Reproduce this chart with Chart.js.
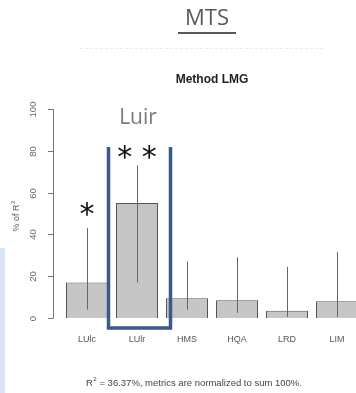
<!DOCTYPE html>
<html>
<head>
<meta charset="utf-8">
<script src="https://cdn.jsdelivr.net/npm/chart.js@4"></script>
<style>
  html, body { margin: 0; padding: 0; background: #fff; overflow: hidden; }
  #wrap { position: relative; width: 356px; height: 393px; overflow: hidden; }
  canvas { position: absolute; left: 0; top: 0; }
</style>
</head>
<body>
<div id="wrap"><canvas id="c" width="380" height="393"></canvas></div>
<script>
// values (% of R2, LMG method)
const categories = ["LUlc", "LUlr", "HMS", "HQA", "LRD", "LIM"];
const shares = [17, 55, 9.5, 8.5, 3.5, 8];
const ciLow = [4, 17, 4, 2.5, 0.5, 0.5];
const ciHigh = [43, 73, 27, 29, 24.5, 31.5];
const stars = ["*", "**", "", "", "", ""];
const yTicks = [0, 20, 40, 60, 80, 100];

const FONT = "'Liberation Sans', Arial, sans-serif";

// text with a superscript "2" after the base, left aligned at x
function supText(ctx, x, y, base, rest, size) {
  ctx.textAlign = "left";
  ctx.font = size + "px " + FONT;
  ctx.fillText(base, x, y);
  let w = ctx.measureText(base).width;
  ctx.font = (size * 0.65) + "px " + FONT;
  ctx.fillText("2", x + w + 0.5, y - size * 0.4);
  w += ctx.measureText("2").width + 0.5;
  ctx.font = size + "px " + FONT;
  ctx.fillText(rest, x + w, y);
  return w + ctx.measureText(rest).width;
}

const decor = {
  id: "decor",
  afterDatasetsDraw(chart) {
    const { ctx, scales: { x, y } } = chart;
    ctx.save();

    // error bars
    ctx.strokeStyle = "#666";
    ctx.lineWidth = 1;
    categories.forEach((c, i) => {
      const px = Math.round(x.getPixelForValue(i)) + 0.5;
      ctx.beginPath();
      ctx.moveTo(px, y.getPixelForValue(ciLow[i]));
      ctx.lineTo(px, y.getPixelForValue(ciHigh[i]));
      ctx.stroke();
    });

    // R style y axis
    const ax = 53.5;
    ctx.strokeStyle = "#777";
    ctx.beginPath();
    ctx.moveTo(ax, y.getPixelForValue(0));
    ctx.lineTo(ax, y.getPixelForValue(100));
    ctx.stroke();
    ctx.fillStyle = "#666";
    ctx.font = "9.5px " + FONT;
    ctx.textAlign = "center";
    ctx.textBaseline = "middle";
    yTicks.forEach(t => {
      const py = Math.round(y.getPixelForValue(t)) + 0.5;
      ctx.beginPath();
      ctx.moveTo(48, py);
      ctx.lineTo(ax, py);
      ctx.stroke();
      ctx.save();
      ctx.translate(33, py);
      ctx.rotate(-Math.PI / 2);
      ctx.fillText(String(t), 0, 0);
      ctx.restore();
    });

    // axis title
    ctx.save();
    ctx.translate(17, (y.getPixelForValue(0) + y.getPixelForValue(100)) / 2);
    ctx.rotate(-Math.PI / 2);
    ctx.fillStyle = "#555";
    supText(ctx, -18, 0, "% of R", "", 9);
    ctx.restore();
    ctx.textAlign = "center";

    // category labels
    ctx.fillStyle = "#555";
    ctx.font = "9px " + FONT;
    categories.forEach((c, i) => {
      ctx.fillText(c, x.getPixelForValue(i), 340);
    });

    // significance stars
    ctx.fillStyle = "#111";
    ctx.font = "30px 'DejaVu Sans', sans-serif";
    stars.forEach((s, i) => {
      if (!s) return;
      const py = i === 0 ? 216 : 159;
      ctx.fillText(s.split("").join(" "), x.getPixelForValue(i), py);
    });

    // highlight box around LUlr
    ctx.strokeStyle = "#3b5a8a";
    ctx.lineWidth = 3.5;
    ctx.beginPath();
    ctx.moveTo(108.5, 147);
    ctx.lineTo(108.5, 328);
    ctx.lineTo(170.5, 328);
    ctx.lineTo(170.5, 147);
    ctx.stroke();

    // "Luir" label
    ctx.fillStyle = "#7a7a7a";
    ctx.font = "21px 'Open Sans', 'Noto Sans', sans-serif";
    ctx.fillText("Luir", 138, 118);

    // chart title
    ctx.fillStyle = "#222";
    ctx.font = "bold 12px " + FONT;
    ctx.fillText("Method LMG", 212, 80);

    // slide heading
    ctx.fillStyle = "#595959";
    ctx.font = "22px 'Open Sans', 'Noto Sans', sans-serif";
    ctx.fillText("MTS", 207, 19);
    ctx.fillRect(178, 32, 58, 2);

    // faint separator
    ctx.strokeStyle = "#ececec";
    ctx.lineWidth = 1;
    ctx.setLineDash([3, 2]);
    ctx.beginPath();
    ctx.moveTo(80, 48.5);
    ctx.lineTo(323, 48.5);
    ctx.stroke();
    ctx.setLineDash([]);

    // footnote
    ctx.fillStyle = "#444";
    supText(ctx, 86, 383, "R", " = 36.37%, metrics are normalized to sum 100%.", 9.5);

    // slide edge accent
    ctx.fillStyle = "#d9e4f6";
    ctx.fillRect(0, 248, 5, 145);

    ctx.restore();
  }
};

new Chart(document.getElementById("c"), {
  type: "bar",
  data: {
    labels: categories,
    datasets: [{
      data: shares,
      backgroundColor: "#c6c6c6",
      borderColor: "#555",
      borderWidth: 1,
      barPercentage: 0.84,
      categoryPercentage: 1
    }]
  },
  options: {
    responsive: false,
    animation: false,
    layout: { padding: { left: 62, top: 109, right: 18, bottom: 75 } },
    plugins: { legend: { display: false }, tooltip: { enabled: false }, title: { display: false } },
    scales: {
      x: { display: false },
      y: { display: false, min: 0, max: 100 }
    }
  },
  plugins: [decor]
});
</script>
</body>
</html>
